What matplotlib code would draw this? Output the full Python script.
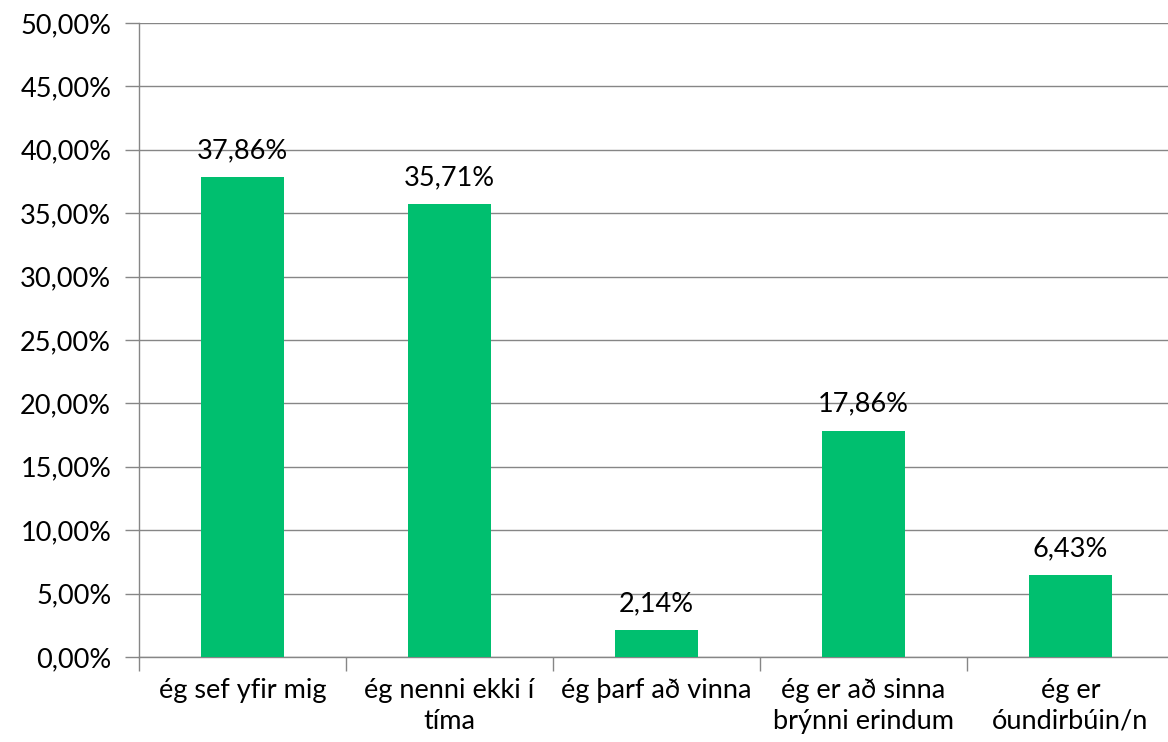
import matplotlib
matplotlib.use("Agg")
import matplotlib.pyplot as plt
from matplotlib.ticker import FuncFormatter

categories = ["ég sef yfir mig", "ég nenni ekki í\ntíma", "ég þarf að vinna",
              "ég er að sinna\nbrýnni erindum", "ég er\nóundirbúin/n"]
values = [37.86, 35.71, 2.14, 17.86, 6.43]
yticks = [0, 5, 10, 15, 20, 25, 30, 35, 40, 45, 50]

plt.rcParams['font.family'] = ['Lato', 'DejaVu Sans']
FS = 19.5

fig = plt.figure(figsize=(11.68, 7.42), dpi=100)
ax = fig.add_axes([139/1168, 1-657/742, (1174-139)/1168, (657-23)/742])

x = list(range(len(categories)))
bars = ax.bar(x, values, width=0.4, color="#00BF6F", zorder=3)
for xi, v in zip(x, values):
    ax.annotate(f"{v:.2f}%".replace(".", ","), (xi, v), xytext=(0, 10),
                textcoords="offset points", ha="center", va="bottom", fontsize=FS)

ax.set_xlim(-0.5, 4.5)
ax.set_ylim(0, 50)
ax.set_yticks(yticks)
ax.yaxis.set_major_formatter(FuncFormatter(lambda v, p: f"{v:.2f}%".replace(".", ",")))
ax.grid(axis="y", color="#868686", linewidth=1, zorder=0)
ax.set_xticks([i + 0.5 for i in range(-1, 5)], minor=False)
ax.set_xticklabels([])
ax.set_xticks(x, minor=True)
ax.set_xticklabels(categories, minor=True, fontsize=FS, linespacing=1.3)
ax.tick_params(axis="x", which="major", length=10, color="#868686", width=1)
ax.tick_params(axis="x", which="minor", length=0, pad=15)
ax.tick_params(axis="y", length=10, color="#868686", width=1, labelsize=FS, pad=10)
for s in ["top", "right"]:
    ax.spines[s].set_visible(False)
for s in ["left", "bottom"]:
    ax.spines[s].set_color("#868686")
    ax.spines[s].set_linewidth(1)

fig.savefig("out.png", dpi=100)
